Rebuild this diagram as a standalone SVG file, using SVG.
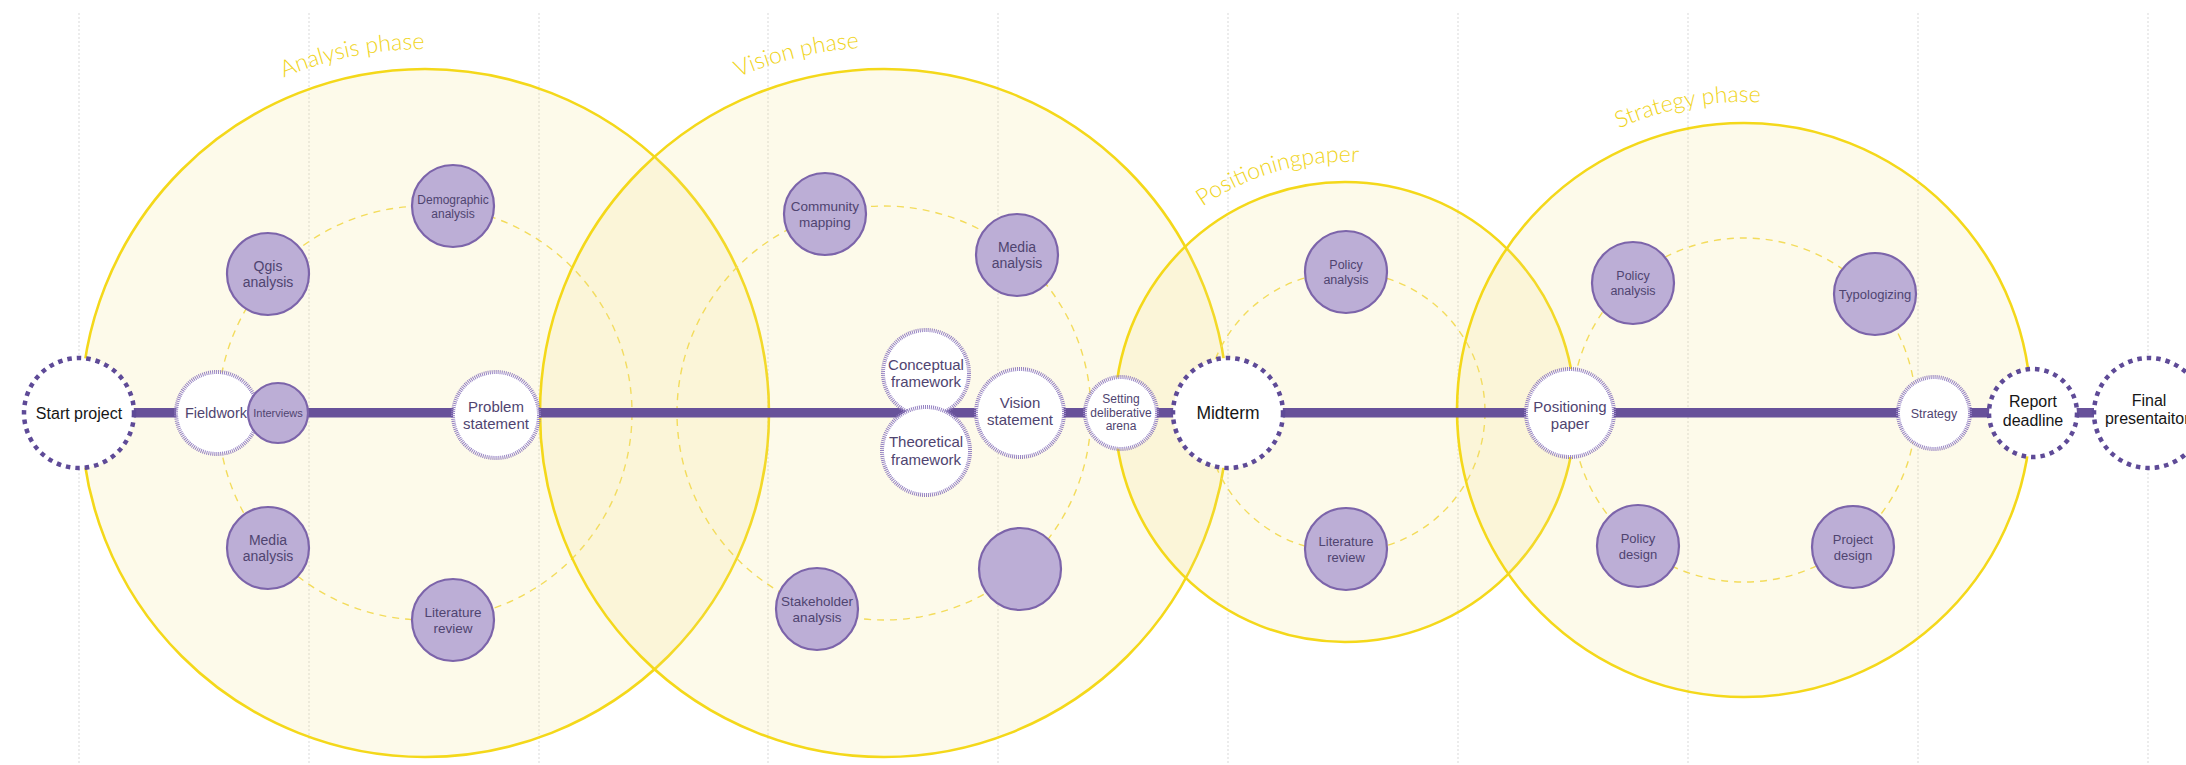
<svg xmlns="http://www.w3.org/2000/svg" width="2186" height="765" viewBox="0 0 2186 765">
<defs>
<style>
.grid{stroke:#d9d9d9;stroke-width:1;stroke-dasharray:2 2;fill:none}
.phase{fill:#f3e07a;fill-opacity:.16;stroke:#f4d81a;stroke-width:2.6}
.inner{fill:none;stroke:#f3dc5c;stroke-width:1.4;stroke-dasharray:7 6}
.plabel{font-family:Lato,"Liberation Sans",sans-serif;font-weight:300;font-size:23px;fill:#f0d420}
.task{fill:#bcaed6;stroke:#7c64aa;stroke-width:2.2}
.step{fill:#fff;stroke:#9582c2;stroke-width:4;stroke-dasharray:1 1}
.mile{fill:#fff;stroke:#5e4a97;stroke-width:4.5;stroke-dasharray:4.5 5}
.bar{fill:#67519a}
text{font-family:"Liberation Sans",Arial,sans-serif;text-anchor:middle}
.tt{fill:#4f4470}
.mt{fill:#161616}
</style>
<path id="arcA" d="M 61 413 A 364 364 0 0 1 789 413"/>
<path id="arcV" d="M 518 413 A 366 366 0 0 1 1250 413"/>
<path id="arcP" d="M 1095 412 A 250 250 0 0 1 1595 412"/>
<path id="arcS" d="M 1436 410 A 308 308 0 0 1 2052 410"/>
</defs>
<rect width="2186" height="765" fill="#ffffff"/>
<g id="gridlines">
<line class="grid" x1="79" y1="13" x2="79" y2="765"/>
<line class="grid" x1="309" y1="13" x2="309" y2="765"/>
<line class="grid" x1="539" y1="13" x2="539" y2="765"/>
<line class="grid" x1="768" y1="13" x2="768" y2="765"/>
<line class="grid" x1="998" y1="13" x2="998" y2="765"/>
<line class="grid" x1="1228" y1="13" x2="1228" y2="765"/>
<line class="grid" x1="1458" y1="13" x2="1458" y2="765"/>
<line class="grid" x1="1688" y1="13" x2="1688" y2="765"/>
<line class="grid" x1="1918" y1="13" x2="1918" y2="765"/>
<line class="grid" x1="2148" y1="13" x2="2148" y2="765"/>
</g>
<g id="phase-analysis">
<circle class="phase" cx="425" cy="413" r="344"/>
<circle class="inner" cx="425" cy="413" r="207"/>
<text class="plabel"><textPath href="#arcA" startOffset="498.7">Analysis phase</textPath></text>
</g>
<g id="phase-vision">
<circle class="phase" cx="884" cy="413" r="344"/>
<circle class="inner" cx="884" cy="413" r="207"/>
<text class="plabel"><textPath href="#arcV" startOffset="487.1">Vision phase</textPath></text>
</g>
<g id="phase-positioning">
<circle class="phase" cx="1345" cy="412" r="230"/>
<circle class="inner" cx="1345" cy="412" r="140"/>
<text class="plabel"><textPath href="#arcP" startOffset="323.8">Positioningpaper</textPath></text>
</g>
<g id="phase-strategy">
<circle class="phase" cx="1744" cy="410" r="287"/>
<circle class="inner" cx="1744" cy="410" r="172"/>
<text class="plabel"><textPath href="#arcS" startOffset="427.4">Strategy phase</textPath></text>
</g>
<g id="connectors">
<rect class="bar" x="133" y="408" width="1961" height="9.5"/>
</g>
<g id="start-project">
<circle class="mile" cx="79" cy="413" r="55"/>
<text class="mt" x="79" y="418.6" font-size="16">Start project</text>
</g>
<g id="fieldwork">
<circle class="step" cx="217" cy="413" r="41"/>
<text class="tt" x="216" y="418" font-size="14.5">Fieldwork</text>
</g>
<g id="interviews">
<circle class="task" cx="278" cy="413" r="30"/>
<text class="tt" x="278" y="417" font-size="11">Interviews</text>
</g>
<g id="problem-statement">
<circle class="step" cx="496" cy="415" r="43"/>
<text class="tt" x="496" y="411.5" font-size="15">Problem</text>
<text class="tt" x="496" y="428.5" font-size="15">statement</text>
</g>
<g id="qgis-analysis">
<circle class="task" cx="268" cy="274" r="41"/>
<text class="tt" x="268" y="271" font-size="14">Qgis</text>
<text class="tt" x="268" y="287" font-size="14">analysis</text>
</g>
<g id="demographic-analysis">
<circle class="task" cx="453" cy="206" r="41"/>
<text class="tt" x="453" y="204" font-size="12">Demographic</text>
<text class="tt" x="453" y="218" font-size="12">analysis</text>
</g>
<g id="media-analysis-1">
<circle class="task" cx="268" cy="548" r="41"/>
<text class="tt" x="268" y="545" font-size="14">Media</text>
<text class="tt" x="268" y="561" font-size="14">analysis</text>
</g>
<g id="literature-review-1">
<circle class="task" cx="453" cy="620" r="41"/>
<text class="tt" x="453" y="617" font-size="13.5">Literature</text>
<text class="tt" x="453" y="633" font-size="13.5">review</text>
</g>
<g id="community-mapping">
<circle class="task" cx="825" cy="214" r="41"/>
<text class="tt" x="825" y="211" font-size="13.5">Community</text>
<text class="tt" x="825" y="227" font-size="13.5">mapping</text>
</g>
<g id="media-analysis-2">
<circle class="task" cx="1017" cy="255" r="41"/>
<text class="tt" x="1017" y="252" font-size="14">Media</text>
<text class="tt" x="1017" y="268" font-size="14">analysis</text>
</g>
<g id="stakeholder-analysis">
<circle class="task" cx="817" cy="609" r="41"/>
<text class="tt" x="817" y="606" font-size="13.5">Stakeholder</text>
<text class="tt" x="817" y="622" font-size="13.5">analysis</text>
</g>
<g id="empty-task">
<circle class="task" cx="1020" cy="569" r="41"/>
</g>
<g id="conceptual-framework">
<circle class="step" cx="926" cy="373" r="43"/>
<text class="tt" x="926" y="370" font-size="15">Conceptual</text>
<text class="tt" x="926" y="387" font-size="15">framework</text>
</g>
<g id="theoretical-framework">
<circle class="step" cx="926" cy="451" r="44"/>
<text class="tt" x="926" y="447" font-size="15">Theoretical</text>
<text class="tt" x="926" y="464.5" font-size="15">framework</text>
</g>
<g id="vision-statement">
<circle class="step" cx="1020" cy="413" r="44"/>
<text class="tt" x="1020" y="407.5" font-size="15">Vision</text>
<text class="tt" x="1020" y="425" font-size="15">statement</text>
</g>
<g id="setting-deliberative-arena">
<circle class="step" cx="1121" cy="413" r="36"/>
<text class="tt" x="1121" y="403" font-size="12">Setting</text>
<text class="tt" x="1121" y="416.5" font-size="12">deliberative</text>
<text class="tt" x="1121" y="430" font-size="12">arena</text>
</g>
<g id="midterm">
<circle class="mile" cx="1228" cy="413" r="55"/>
<text class="mt" x="1228" y="419" font-size="17.5">Midterm</text>
</g>
<g id="policy-analysis-1">
<circle class="task" cx="1346" cy="272" r="41"/>
<text class="tt" x="1346" y="269" font-size="12.5">Policy</text>
<text class="tt" x="1346" y="284" font-size="12.5">analysis</text>
</g>
<g id="literature-review-2">
<circle class="task" cx="1346" cy="549" r="41"/>
<text class="tt" x="1346" y="546" font-size="13">Literature</text>
<text class="tt" x="1346" y="561.5" font-size="13">review</text>
</g>
<g id="positioning-paper">
<circle class="step" cx="1570" cy="413" r="44"/>
<text class="tt" x="1570" y="411.5" font-size="15">Positioning</text>
<text class="tt" x="1570" y="428.5" font-size="15">paper</text>
</g>
<g id="policy-analysis-2">
<circle class="task" cx="1633" cy="283" r="41"/>
<text class="tt" x="1633" y="280" font-size="12.5">Policy</text>
<text class="tt" x="1633" y="295" font-size="12.5">analysis</text>
</g>
<g id="typologizing">
<circle class="task" cx="1875" cy="294" r="41"/>
<text class="tt" x="1875" y="298.5" font-size="13">Typologizing</text>
</g>
<g id="policy-design">
<circle class="task" cx="1638" cy="546" r="41"/>
<text class="tt" x="1638" y="543" font-size="13">Policy</text>
<text class="tt" x="1638" y="558.5" font-size="13">design</text>
</g>
<g id="project-design">
<circle class="task" cx="1853" cy="547" r="41"/>
<text class="tt" x="1853" y="544" font-size="13">Project</text>
<text class="tt" x="1853" y="559.5" font-size="13">design</text>
</g>
<g id="strategy">
<circle class="step" cx="1934" cy="413" r="36"/>
<text class="tt" x="1934" y="417.5" font-size="12.5">Strategy</text>
</g>
<g id="report-deadline">
<circle class="mile" cx="2033" cy="413" r="44"/>
<text class="mt" x="2033" y="407" font-size="16">Report</text>
<text class="mt" x="2033" y="425.5" font-size="16">deadline</text>
</g>
<g id="final-presentation">
<circle class="mile" cx="2149" cy="413" r="55"/>
<text class="mt" x="2149" y="405.5" font-size="16">Final</text>
<text class="mt" x="2149" y="424" font-size="16">presentaiton</text>
</g>
</svg>
